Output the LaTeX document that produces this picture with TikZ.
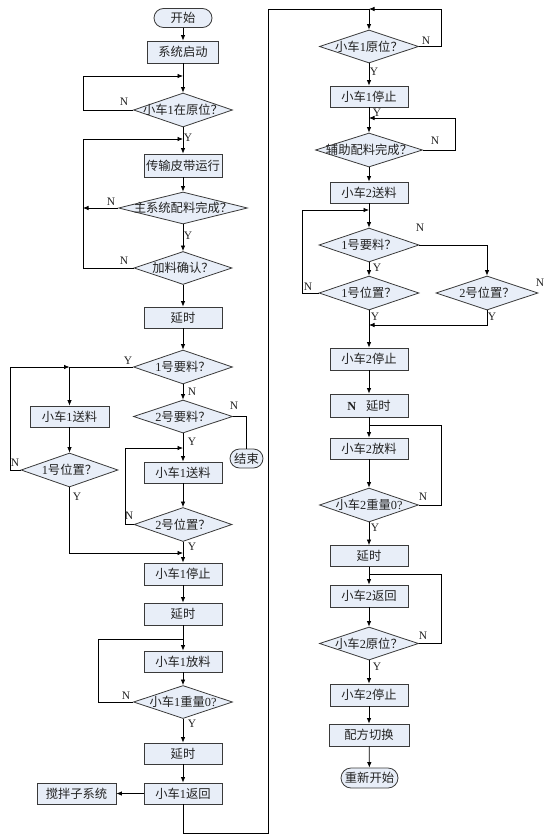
\documentclass[tikz,border=0pt]{standalone}
\usepackage{fontspec}
\setmainfont{Liberation Serif}
\newfontfamily\cjk{Noto Sans CJK SC}
\newcommand\zh[1]{{\cjk #1}}
\usetikzlibrary{shapes.geometric,arrows.meta}
\definecolor{boxfill}{HTML}{E8EEF8}
\definecolor{boxline}{HTML}{3A3A3A}
\definecolor{txt}{HTML}{222222}
\begin{document}
\begin{tikzpicture}[x=1pt,y=-1pt,
  font=\fontsize{12.3}{14}\selectfont,
  box/.style={draw=boxline, fill=boxfill, line width=0.8pt, rectangle, inner sep=0pt,
    minimum width=78pt, minimum height=22pt, text=txt},
  term/.style={draw=boxline, fill=boxfill, line width=0.8pt, rectangle, rounded corners=9.5pt,
    inner sep=0pt, minimum height=19pt, text=txt},
  dia/.style={draw=boxline, fill=boxfill, line width=0.8pt, diamond, inner sep=0pt,
    minimum width=99pt, minimum height=34pt},
  dlab/.style={text=txt, inner sep=0pt},
  yn/.style={font=\fontsize{11.5}{12}\selectfont, inner sep=0pt, text=txt},
  ln/.style={line width=0.75pt, draw=black},
  arr/.style={ln, -{Latex[length=5.5pt,width=4.5pt]}}
]
\useasboundingbox (0,0) rectangle (554,837);

% ---------------- left column ----------------
\node[term, minimum width=58pt] (start) at (183,18) {\zh{开始}};
\node[box, minimum width=71pt] (s1) at (183,52) {\zh{系统启动}};
\node[dia, label={[dlab]center:\zh{小车}1\zh{在原位？}}] (d1) at (183,110) {};
\node[box, minimum height=23pt] (b2) at (183,165.5) {\zh{传输皮带运行}};
\node[dia, minimum width=129pt, minimum height=32pt, label={[dlab]center:\zh{主系统配料完成？}}] (d2) at (183,208) {};
\node[dia, minimum width=98pt, minimum height=33pt, label={[dlab]center:\zh{加料确认？}}] (d3) at (183,268) {};
\node[box, minimum height=21pt] (b3) at (183,317.5) {\zh{延时}};
\node[dia, label={[dlab]center:1\zh{号要料？}}] (d4) at (183,367) {};
\node[box, minimum width=79pt, minimum height=21pt] (bL) at (69.5,416.5) {\zh{小车}1\zh{送料}};
\node[dia, minimum width=97pt, label={[dlab]center:1\zh{号位置？}}] (d5) at (69.5,470) {};
\node[dia, minimum height=33pt, label={[dlab]center:2\zh{号要料？}}] (d6) at (183,416.5) {};
\node[term, minimum width=33pt] (fin) at (246.5,458.5) {\zh{结束}};
\node[box, minimum height=21pt] (b4) at (183,472.5) {\zh{小车}1\zh{送料}};
\node[dia, minimum width=98pt, label={[dlab]center:2\zh{号位置？}}] (d7) at (183,524.5) {};
\node[box] (b5) at (183,574) {\zh{小车}1\zh{停止}};
\node[box] (b6) at (183,614) {\zh{延时}};
\node[box, minimum height=21pt] (b7) at (183,661.5) {\zh{小车}1\zh{放料}};
\node[dia, minimum height=33pt, label={[dlab]center:\zh{小车}1\zh{重量}0?}] (d8) at (183,702) {};
\node[box, minimum height=21pt] (b8) at (183,753.5) {\zh{延时}};
\node[box, minimum height=21pt] (b9) at (183,793.5) {\zh{小车}1\zh{返回}};
\node[box, minimum width=79pt, minimum height=21pt] (mix) at (76.5,793.5) {\zh{搅拌子系统}};

% ---------------- right column ----------------
\node[dia, minimum height=33pt, label={[dlab]center:\zh{小车}1\zh{原位？}}] (d9) at (369,46.5) {};
\node[box, minimum height=21pt] (r1) at (369,96.5) {\zh{小车}1\zh{停止}};
\node[dia, minimum width=107pt, label={[dlab]center:\zh{辅助配料完成？}}] (d10) at (369,150) {};
\node[box, minimum height=21pt] (r2) at (369,192.5) {\zh{小车}2\zh{送料}};
\node[dia, minimum width=100pt, label={[dlab]center:1\zh{号要料？}}] (d11) at (369,245) {};
\node[dia, minimum width=100pt, label={[dlab]center:1\zh{号位置？}}] (d12) at (369,293) {};
\node[dia, minimum width=102pt, label={[dlab]center:2\zh{号位置？}}] (d13) at (487,293) {};
\node[box] (r3) at (369,359) {\zh{小车}2\zh{停止}};
\node[box, minimum height=23pt] (r4) at (369,405.5) {\textbf{N}\hspace{0.8em}\zh{延时}};
\node[box, minimum height=21pt] (r5) at (369,448.5) {\zh{小车}2\zh{放料}};
\node[dia, label={[dlab]center:\zh{小车}2\zh{重量}0?}] (d14) at (369,505) {};
\node[box, minimum height=21pt] (r6) at (369,556) {\zh{延时}};
\node[box] (r7) at (369,596) {\zh{小车}2\zh{返回}};
\node[dia, minimum height=33pt, label={[dlab]center:\zh{小车}2\zh{原位？}}] (d15) at (369,643.5) {};
\node[box] (r8) at (369,695) {\zh{小车}2\zh{停止}};
\node[box, minimum width=80pt] (r9) at (369,735) {\zh{配方切换}};
\node[term, minimum width=57pt, minimum height=20pt, rounded corners=10pt] (restart) at (369.5,778) {\zh{重新开始}};

% ---------------- junction coordinates ----------------
\coordinate (j1) at (183,76);   \coordinate (c1) at (83,76);
\coordinate (j2) at (183,139);  \coordinate (c2) at (83,139);
\coordinate (c3) at (83,208);
\coordinate (jL) at (69.5,367); \coordinate (cL) at (10,367);
\coordinate (j4) at (183,448);  \coordinate (c4) at (125,448);
\coordinate (j5) at (183,553);
\coordinate (j6) at (183,639);  \coordinate (c6) at (98,639);
\coordinate (k1) at (268,833);
\coordinate (k2) at (369,9);    \coordinate (k3) at (441,9);
\coordinate (j7) at (369,118);  \coordinate (c7) at (455,118);
\coordinate (j8) at (369,210);  \coordinate (c8) at (302,210);
\coordinate (j9) at (369,325);
\coordinate (j10) at (369,425); \coordinate (c10) at (441,425);
\coordinate (j11) at (369,574); \coordinate (c11) at (441,574);

% ---------------- left connectors ----------------
\draw[arr] (start) -- (s1);
\draw[arr] (s1) -- (d1);
\draw[arr] (d1.west) -| (c1) -- (j1);
\draw[arr] (d1) -- (b2);
\draw[arr] (d3.west) -| (c2) -- (j2);
\draw[arr] (b2) -- (d2);
\draw[arr] (d2.west) -- (c3);
\draw[arr] (d2) -- (d3);
\draw[arr] (d3) -- (b3);
\draw[arr] (b3) -- (d4);
\draw[ln] (d4.west) -- (jL);
\draw[arr] (jL) -- (bL);
\draw[arr] (d5.west) -| (cL) -- (jL);
\draw[arr] (bL) -- (d5);
\draw[arr] (d5.south) |- (j5);
\draw[arr] (d4) -- (d6);
\draw[ln] (d6.east) -| (fin.north);
\draw[arr] (d6) -- (b4);
\draw[arr] (d7.west) -| (c4) -- (j4);
\draw[arr] (b4) -- (d7);
\draw[arr] (d7) -- (b5);
\draw[arr] (b5) -- (b6);
\draw[arr] (b6) -- (b7);
\draw[ln] (d8.west) -| (c6) -- (j6);
\draw[arr] (b7) -- (d8);
\draw[arr] (d8) -- (b8);
\draw[arr] (b8) -- (b9);
\draw[arr] (b9) -- (mix);
\draw[ln] (b9.south) |- (k1) |- (k2);

% ---------------- right connectors ----------------
\draw[arr] (k2) -- (d9);
\draw[arr] (d9.east) -| (k3) -- (k2);
\draw[arr] (d9) -- (r1);
\draw[arr] (r1) -- (d10);
\draw[arr] (d10.east) -| (c7) -- (j7);
\draw[arr] (d10) -- (r2);
\draw[arr] (r2) -- (d11);
\draw[arr] (d12.west) -| (c8) -- (j8);
\draw[arr] (d11) -- (d12);
\draw[arr] (d11.east) -| (d13.north);
\draw[arr] (d12) -- (r3);
\draw[arr] (d13.south) |- (j9);
\draw[arr] (r3) -- (r4);
\draw[arr] (r4) -- (r5);
\draw[ln] (d14.east) -| (c10) -- (j10);
\draw[arr] (r5) -- (d14);
\draw[arr] (d14) -- (r6);
\draw[arr] (r6) -- (r7);
\draw[ln] (d15.east) -| (c11) -- (j11);
\draw[arr] (r7) -- (d15);
\draw[arr] (d15) -- (r8);
\draw[arr] (r8) -- (r9);
\draw[arr] (r9) -- (restart);

% ---------------- Y / N labels ----------------
\node[yn] (n1) at (124,102) {N};
\node[yn] (y1) at (188,138) {Y};
\node[yn] (n2) at (111,202) {N};
\node[yn] (y2) at (188,236) {Y};
\node[yn] (n3) at (124,261) {N};
\node[yn] (y4) at (128,361) {Y};
\node[yn] (n4) at (192,392) {N};
\node[yn] (n6) at (234,406) {N};
\node[yn] (y6) at (192,442) {Y};
\node[yn] (n5) at (15,463) {N};
\node[yn] (y5) at (77,497) {Y};
\node[yn] (n7) at (129,516) {N};
\node[yn] (y7) at (192,547) {Y};
\node[yn] (n8) at (126,696) {N};
\node[yn] (y8) at (192,724) {Y};
\node[yn] (n9) at (426,41) {N};
\node[yn] (y9) at (374,72) {Y};
\node[yn] (yx) at (377,113) {Y};
\node[yn] (n10) at (435,141) {N};
\node[yn] (n11) at (420,228) {N};
\node[yn] (y11) at (377,268) {Y};
\node[yn] (n12) at (308,287) {N};
\node[yn] (n13) at (540,283) {N};
\node[yn] (y12) at (375,317) {Y};
\node[yn] (y13) at (492,317) {Y};
\node[yn] (n14) at (423,497) {N};
\node[yn] (y14) at (375,528) {Y};
\node[yn] (n15) at (423,636) {N};
\node[yn] (y15) at (377,667) {Y};
\end{tikzpicture}
\end{document}
